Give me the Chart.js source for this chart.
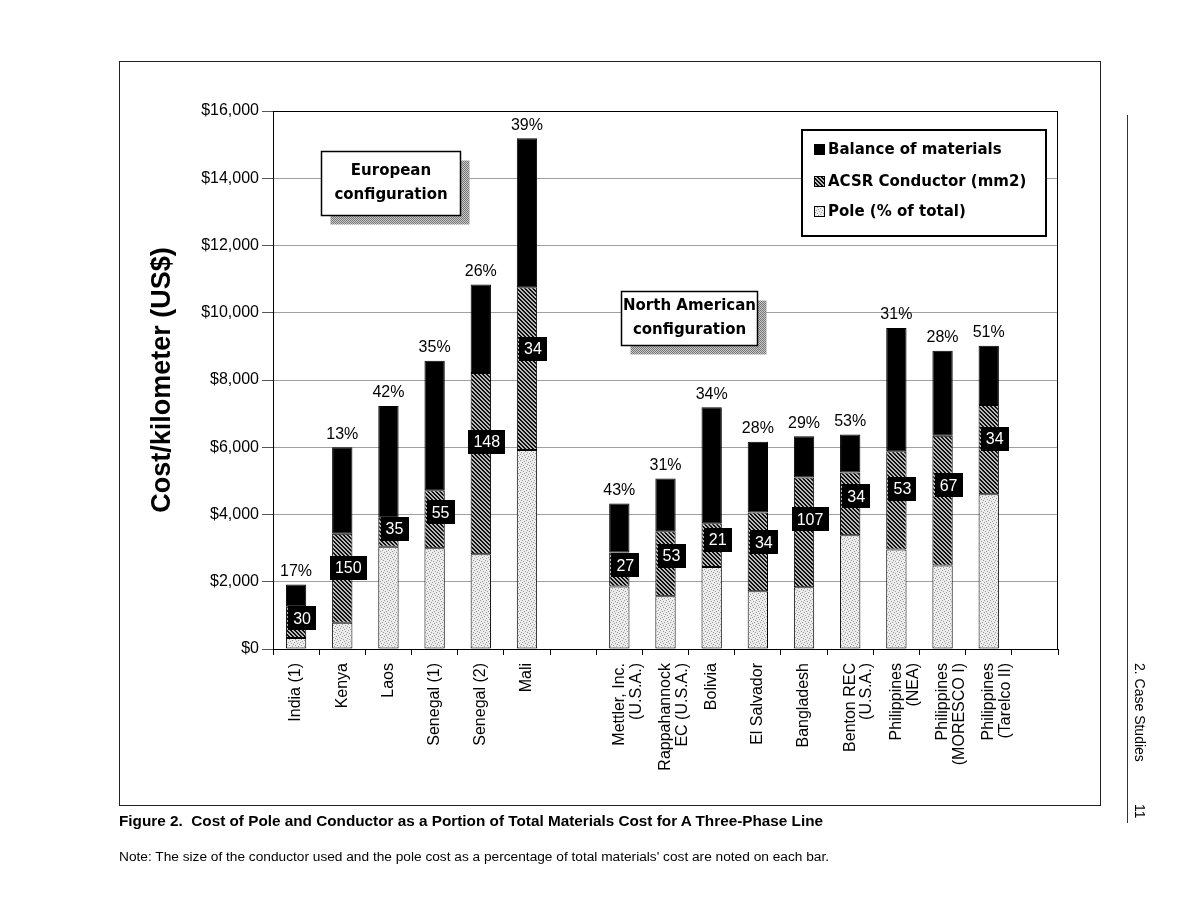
<!DOCTYPE html>
<html>
<head>
<meta charset="utf-8">
<title>Cost of Pole and Conductor</title>
<script src="https://cdn.jsdelivr.net/npm/chart.js@4.4.1/dist/chart.umd.min.js"></script>
<style>
  body { margin: 0; background: #fff; font-family: 'Liberation Sans', Arial, sans-serif; color: #000; }
  #page { position: relative; width: 1197px; height: 921px; overflow: hidden; }
  #frame { position: absolute; left: 119px; top: 61px; width: 980px; height: 743px; border: 1px solid #222; }
  #chart { position: absolute; left: 0; top: 0; }
  .caption { position: absolute; left: 119px; top: 812px; font-size: 15.3px; font-weight: bold; white-space: nowrap; }
  .note { position: absolute; left: 119px; top: 849px; font-size: 13.7px; white-space: nowrap; }
  .margin-line { position: absolute; left: 1127px; top: 115px; width: 1px; height: 708px; background: #333; }
  .margin-text { position: absolute; left: 1132px; writing-mode: vertical-rl; font-size: 14px; white-space: nowrap; }
</style>
</head>
<body>
<div id="page">
  <div id="frame"></div>
  <canvas id="chart" width="1197" height="921"></canvas>
  <div class="caption">Figure 2.&nbsp; Cost of Pole and Conductor as a Portion of Total Materials Cost for A Three-Phase Line</div>
  <div class="note">Note: The size of the conductor used and the pole cost as a percentage of total materials' cost are noted on each bar.</div>
  <div class="margin-line"></div>
  <div class="margin-text" style="top:663px">2. Case Studies</div>
  <div class="margin-text" style="top:804px">11</div>
</div>
<script>
// categories (one empty slot between the two groups, one at the end)
var categories = ['India (1)', 'Kenya', 'Laos', 'Senegal (1)', 'Senegal (2)', 'Mali', '',
  ['Mettler, Inc.', '(U.S.A.)'], ['Rappahannock', 'EC (U.S.A.)'], 'Bolivia', 'El Salvador', 'Bangladesh',
  ['Benton REC', '(U.S.A.)'], ['Philippines', '(NEA)'], ['Philippines', '(MORESCO I)'], ['Philippines', '(Tarelco II)'], ''];

// US$ per km
var poleCost      = [330, 780, 3040, 3000, 2820, 5920, null, 1860, 1570, 2440, 1720, 1840, 3380, 2960, 2480, 4600, null];
var conductorCost = [940, 2650, 860, 1720, 5390, 4840, null, 1010, 1930, 1300, 2340, 3260, 1870, 2920, 3860, 2660, null];
var balanceCost   = [650, 2570, 3330, 3850, 2630, 4430, null, 1460, 1570, 3450, 2100, 1230, 1130, 3670, 2530, 1760, null];

// notes written on the bars
var polePercent   = ['17%', '13%', '42%', '35%', '26%', '39%', null, '43%', '31%', '34%', '28%', '29%', '53%', '31%', '28%', '51%', null];
var conductorSize = ['30', '150', '35', '55', '148', '34', null, '27', '53', '21', '34', '107', '34', '53', '67', '34', null];

var yTicks = [0, 2000, 4000, 6000, 8000, 10000, 12000, 14000, 16000];

Chart.defaults.font.family = "'Liberation Sans', Arial, sans-serif";
Chart.defaults.color = '#000';

var canvas = document.getElementById('chart');
var ctx = canvas.getContext('2d');

// fill patterns
function makePattern(size, draw) {
  var c = document.createElement('canvas');
  c.width = size; c.height = size;
  draw(c.getContext('2d'), size);
  return ctx.createPattern(c, 'repeat');
}
var polePattern = makePattern(6, function(g) {
  g.fillStyle = '#ececec'; g.fillRect(0, 0, 6, 6);
  g.fillStyle = '#9a9a9a';
  [[0,0],[3,1],[1,3],[4,4],[2,5],[5,2]].forEach(function(p) { g.fillRect(p[0], p[1], 1, 1); });
});
var hatchPattern = makePattern(4, function(g) {
  g.fillStyle = '#b8b8b8'; g.fillRect(0, 0, 4, 4);
  g.fillStyle = '#111';
  for (var i = 0; i < 4; i++) { g.fillRect(i, i, 1, 1); g.fillRect((i + 1) % 4, i, 1, 1); }
});
var shadowPattern = makePattern(2, function(g) {
  g.fillStyle = '#c8c8c8'; g.fillRect(0, 0, 2, 2);
  g.fillStyle = '#777'; g.fillRect(0, 0, 1, 1); g.fillRect(1, 1, 1, 1);
});

var boxFont = "bold 15px 'DejaVu Sans', sans-serif";

function textBox(c, x, y, w, h, lines) {
  c.fillStyle = shadowPattern;
  c.fillRect(x + 9, y + 9, w, h);
  c.fillStyle = '#fff';
  c.fillRect(x, y, w, h);
  c.strokeStyle = '#000'; c.lineWidth = 1.5;
  c.strokeRect(x, y, w, h);
  c.fillStyle = '#000'; c.font = boxFont;
  c.textAlign = 'center'; c.textBaseline = 'middle';
  c.fillText(lines[0], x + w / 2, y + h / 2 - 12);
  c.fillText(lines[1], x + w / 2, y + h / 2 + 12);
}

var barNotes = {
  id: 'barNotes',
  beforeDatasetsDraw: function(chart) {
    var a = chart.chartArea, c = chart.ctx;
    c.save();
    c.strokeStyle = '#000'; c.lineWidth = 1;
    c.strokeRect(a.left + 0.5, a.top + 0.5, a.right - a.left - 1, a.bottom - a.top);
    c.restore();
  },
  afterDatasetsDraw: function(chart) {
    var c = chart.ctx;
    var condMeta = chart.getDatasetMeta(1), topMeta = chart.getDatasetMeta(2);
    c.save();
    for (var j = 0; j < categories.length; j++) {
      if (polePercent[j] == null) continue;
      var top = topMeta.data[j];
      c.fillStyle = '#000'; c.font = "16px 'Liberation Sans', Arial, sans-serif";
      c.textAlign = 'center'; c.textBaseline = 'middle';
      c.fillText(polePercent[j], top.x, top.y - 13);

      // conductor size tag, placed over the hatched segment
      var el = condMeta.data[j];
      var yc = el.base + (el.y - el.base) * 0.62;
      var xc = el.x + 6;
      var w = c.measureText(conductorSize[j]).width + 10, h = 24;
      c.fillStyle = '#000';
      c.fillRect(Math.round(xc - w / 2), Math.round(yc - h / 2), Math.round(w), h);
      c.fillStyle = '#fff';
      c.fillText(conductorSize[j], xc, yc + 1);
    }

    // group captions
    textBox(c, 321.5, 151.5, 139, 64, ['European', 'configuration']);
    textBox(c, 621.5, 291.5, 136, 54, ['North American', 'configuration']);

    // legend
    c.fillStyle = '#fff';
    c.fillRect(802, 130, 244, 106);
    c.strokeStyle = '#000'; c.lineWidth = 2;
    c.strokeRect(802, 130, 244, 106);
    var items = [
      { text: 'Balance of materials', fill: '#000' },
      { text: 'ACSR Conductor (mm2)', fill: hatchPattern },
      { text: 'Pole (% of total)', fill: polePattern }
    ];
    var rowY = [149, 181, 211];
    c.font = boxFont; c.textAlign = 'left'; c.textBaseline = 'middle';
    items.forEach(function(it, i) {
      c.fillStyle = it.fill;
      c.fillRect(814, rowY[i] - 5, 10, 10);
      c.strokeStyle = '#000'; c.lineWidth = 1;
      c.strokeRect(814.5, rowY[i] - 4.5, 10, 10);
      c.fillStyle = '#000';
      c.fillText(it.text, 828, rowY[i] + 1);
    });
    c.restore();
  }
};

new Chart(ctx, {
  type: 'bar',
  data: {
    labels: categories,
    datasets: [
      { label: 'Pole (% of total)', data: poleCost, backgroundColor: polePattern },
      { label: 'ACSR Conductor (mm2)', data: conductorCost, backgroundColor: hatchPattern },
      { label: 'Balance of materials', data: balanceCost, backgroundColor: '#000' }
    ]
  },
  options: {
    responsive: false,
    animation: false,
    layout: { padding: { left: 130, top: 111, right: 139, bottom: 0 } },
    datasets: {
      bar: { borderColor: '#000', borderWidth: 1, borderSkipped: false, barPercentage: 0.44, categoryPercentage: 1 }
    },
    plugins: {
      legend: { display: false },
      tooltip: { enabled: false }
    },
    scales: {
      x: {
        stacked: true,
        grid: { drawOnChartArea: false, tickLength: 6, color: '#000' },
        border: { color: '#000' },
        ticks: {
          autoSkip: false, minRotation: 90, maxRotation: 90, padding: 8,
          font: { size: 16, lineHeight: 1.05 }, color: '#000'
        },
        afterFit: function(scale) { scale.height = 272; }
      },
      y: {
        stacked: true,
        min: yTicks[0],
        max: yTicks[yTicks.length - 1],
        afterBuildTicks: function(scale) { scale.ticks = yTicks.map(function(v) { return { value: v }; }); },
        ticks: {
          padding: 3, font: { size: 16 }, color: '#000',
          callback: function(v) { return '$' + Number(v).toLocaleString('en-US'); }
        },
        grid: { color: '#a0a0a0', tickColor: '#555', tickLength: 11 },
        border: { color: '#000' },
        title: {
          display: true, text: 'Cost/kilometer (US$)', color: '#000',
          font: { size: 27, weight: 'bold' }, padding: { top: 16, bottom: 0 }
        },
        afterFit: function(scale) { scale.width = 143; }
      }
    }
  },
  plugins: [barNotes]
});
</script>
</body>
</html>
